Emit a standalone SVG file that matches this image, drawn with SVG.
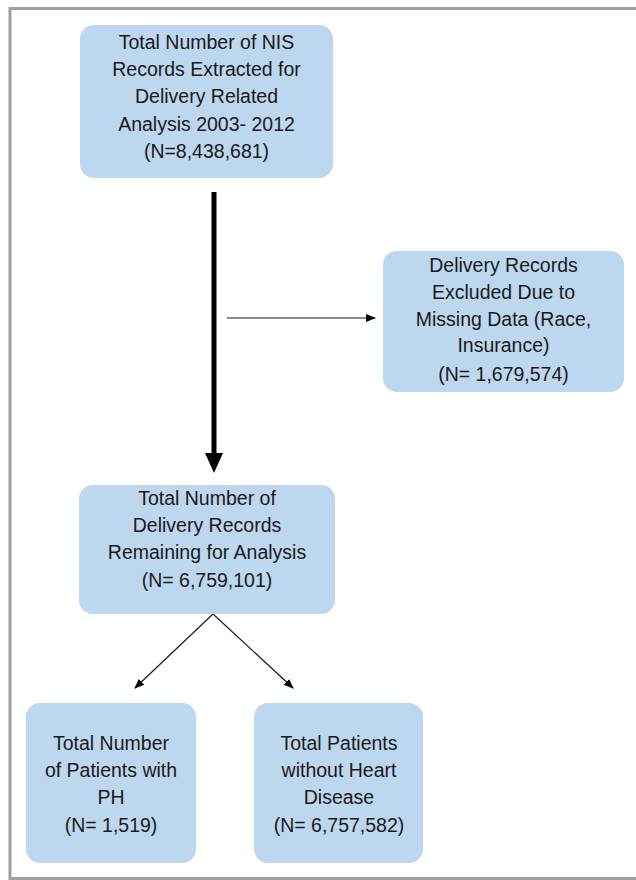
<svg xmlns="http://www.w3.org/2000/svg" width="636" height="880" viewBox="0 0 636 880">
<style>
.box{fill:#bdd7ee;}
.t{font-family:"Liberation Sans",Arial,sans-serif;font-size:19.5px;fill:#1a1a1a;text-anchor:middle;}
.thin{stroke:#1a1a1a;stroke-width:1.2;fill:none;}
</style>
<defs>
<marker id="ah" markerWidth="10" markerHeight="10" refX="9" refY="5" orient="auto" markerUnits="userSpaceOnUse">
<path d="M0,1 L10,5 L0,9 Z" fill="#000"/>
</marker>
</defs>
<rect x="0" y="0" width="636" height="880" fill="#fff"/>
<rect x="10" y="8.5" width="640" height="870" fill="none" stroke="#a0a0a0" stroke-width="3"/>

<g id="connectors">
<line x1="214" y1="192" x2="214" y2="455" stroke="#000" stroke-width="5"/>
<polygon points="205,453 223,453 214,473" fill="#000"/>
<line class="thin" x1="227" y1="318" x2="375" y2="318" marker-end="url(#ah)"/>
<line class="thin" x1="213" y1="614" x2="135" y2="688" marker-end="url(#ah)"/>
<line class="thin" x1="213" y1="614" x2="293" y2="688" marker-end="url(#ah)"/>
</g>

<g id="node-nis">
<rect class="box" x="80" y="25" width="253" height="153" rx="14"/>
<text class="t" x="206.5" y="49">Total Number of NIS</text>
<text class="t" x="206.5" y="76">Records Extracted for</text>
<text class="t" x="206.5" y="103">Delivery Related</text>
<text class="t" x="206.5" y="131">Analysis 2003- 2012</text>
<text class="t" x="206.5" y="158">(N=8,438,681)</text>
</g>

<g id="node-excluded">
<rect class="box" x="383" y="251" width="241" height="141" rx="14"/>
<text class="t" x="503.5" y="272">Delivery Records</text>
<text class="t" x="503.5" y="299">Excluded Due to</text>
<text class="t" x="503.5" y="326">Missing Data (Race,</text>
<text class="t" x="503.5" y="352">Insurance)</text>
<text class="t" x="503.5" y="381">(N= 1,679,574)</text>
</g>

<g id="node-remaining">
<rect class="box" x="79" y="485" width="256" height="129" rx="14"/>
<text class="t" x="207" y="505">Total Number of</text>
<text class="t" x="207" y="532">Delivery Records</text>
<text class="t" x="207" y="559">Remaining for Analysis</text>
<text class="t" x="207" y="587">(N= 6,759,101)</text>
</g>

<g id="node-ph">
<rect class="box" x="26" y="703" width="170" height="160" rx="14"/>
<text class="t" x="111" y="750">Total Number</text>
<text class="t" x="111" y="777">of Patients with</text>
<text class="t" x="111" y="804">PH</text>
<text class="t" x="111" y="832">(N= 1,519)</text>
</g>

<g id="node-noheart">
<rect class="box" x="254" y="703" width="169" height="160" rx="14"/>
<text class="t" x="339" y="750">Total Patients</text>
<text class="t" x="339" y="777">without Heart</text>
<text class="t" x="339" y="804">Disease</text>
<text class="t" x="339" y="832">(N= 6,757,582)</text>
</g>
</svg>
